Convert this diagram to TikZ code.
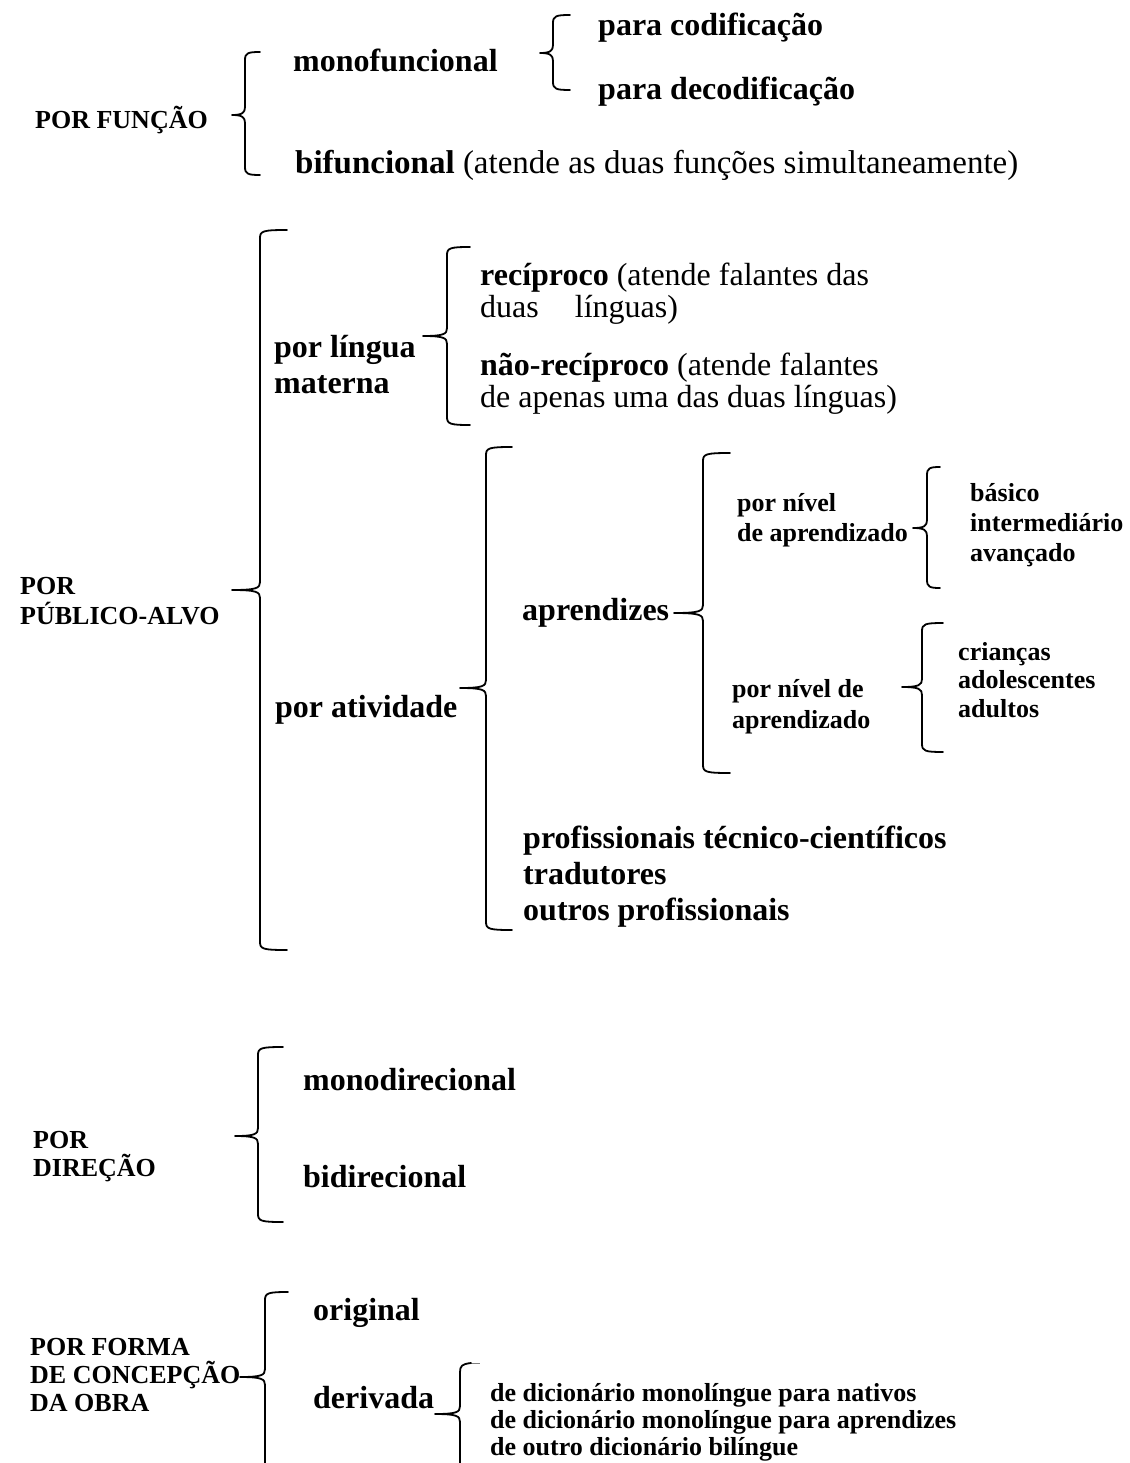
\documentclass[tikz,border=0pt]{standalone}
\usepackage{fontspec}
\setmainfont{Liberation Serif}
\newcommand{\mybrace}[6]{%
 \draw[brc] (#5,#2) .. controls (#1+3,#2) and (#1,#2+1) .. (#1,#2+8)
   -- (#1,#3-8) .. controls (#1,#3-2) and (#1-3,#3) .. (#6,#3)
   .. controls (#1-3,#3) and (#1,#3+2) .. (#1,#3+8)
   -- (#1,#4-8) .. controls (#1,#4-1) and (#1+3,#4) .. (#5,#4);}
\tikzset{
 brc/.style={line width=1.8pt, line cap=round, line join=round},
 lbl/.style={inner sep=0pt, anchor=west, align=left, text=black},
 big/.style={lbl, font=\fontsize{32}{36}\selectfont\bfseries},
 small/.style={lbl, font=\fontsize{26}{29}\selectfont\bfseries},
 reg/.style={lbl, font=\fontsize{32}{32}\selectfont},
}
\begin{document}
\begin{tikzpicture}[x=1pt,y=-1pt]
\useasboundingbox (0,0) rectangle (1129,1463);
\clip (0,0) rectangle (1129,1463);
% ---- POR FUNCAO
\node[small] (funcao) at (35,120) {POR FUNÇÃO};
\node[big] (mono) at (293,60) {monofuncional};
\node[big] (cod) at (598,28) {para codificação};
\node[big] (decod) at (598,92) {para decodificação};
\node[reg, font=\fontsize{33}{33}\selectfont] (bif) at (295,165) {\textbf{bifuncional} (atende as duas funções simultaneamente)};
\mybrace{245}{52}{115}{175}{260}{232}
\mybrace{553}{15}{53}{90}{570}{540}
% ---- POR PUBLICO-ALVO
\node[small, font=\fontsize{26}{30}\selectfont\bfseries] (publico) at (20,601) {POR\\PÚBLICO-ALVO};
\mybrace{260}{230}{590}{950}{287}{232}
\node[big] (lingua) at (274,365) {por língua\\materna};
\mybrace{447}{247}{336}{425}{470}{423}
\node[reg] (recip) at (480,294) {\textbf{recíproco} (atende falantes das\\duas\hspace{36pt}línguas)};
\node[reg] (naorecip) at (480,384) {\textbf{não-recíproco} (atende falantes\\de apenas uma das duas línguas)};
\node[big] (ativ) at (275,710) {por atividade};
\mybrace{486}{447}{688}{930}{512}{460}
\node[big] (aprend) at (522,613) {aprendizes};
\mybrace{703}{453}{613}{773}{730}{674}
\node[small, font=\fontsize{26}{30}\selectfont\bfseries] (nivel1) at (737,520) {por nível\\de aprendizado};
\mybrace{927}{467}{528}{588}{940}{913}
\node[small, font=\fontsize{26}{30}\selectfont\bfseries] (niveis) at (970,525) {básico\\intermediário\\avançado};
\node[small, font=\fontsize{26}{31}\selectfont\bfseries] (nivel2) at (732,707) {por nível de\\aprendizado};
\mybrace{922}{623}{687}{752}{943}{902}
\node[small, font=\fontsize{26}{28.5}\selectfont\bfseries] (idades) at (958,680) {crianças\\adolescentes\\adultos};
\node[big] (prof) at (523,877) {profissionais técnico-científicos\\tradutores\\outros profissionais};
% ---- POR DIRECAO
\node[small, font=\fontsize{26}{28}\selectfont\bfseries] (direcao) at (33,1157) {POR\\DIREÇÃO};
\mybrace{258}{1047}{1136}{1222}{283}{235}
\node[big] (monodir) at (303,1080) {monodirecional};
\node[big] (bidir) at (303,1177) {bidirecional};
% ---- POR FORMA DE CONCEPCAO
\node[small, font=\fontsize{26}{28}\selectfont\bfseries] (forma) at (30,1375) {POR FORMA\\DE CONCEPÇÃO\\DA OBRA};
\draw[brc] (288,1292) .. controls (268,1292) and (265,1293) .. (265,1300)
  -- (265,1369) .. controls (265,1375) and (262,1377) .. (240,1377)
  .. controls (262,1377) and (265,1379) .. (265,1385) -- (265,1475);
\node[big] (orig) at (313,1313) {original};
\node[big] (deriv) at (313,1398) {derivada};
\draw[line width=1pt, gray] (470,1363) -- (480,1363);
\draw[brc] (471,1363) .. controls (462,1364) and (460,1366) .. (460,1372)
  -- (460,1406) .. controls (460,1412) and (457,1414) .. (435,1414)
  .. controls (457,1414) and (460,1416) .. (460,1422) -- (460,1475);
\node[small, font=\fontsize{26}{27}\selectfont\bfseries] (fontes) at (490,1422) {de dicionário monolíngue para nativos\\de dicionário monolíngue para aprendizes\\de outro dicionário bilíngue};
\end{tikzpicture}
\end{document}
